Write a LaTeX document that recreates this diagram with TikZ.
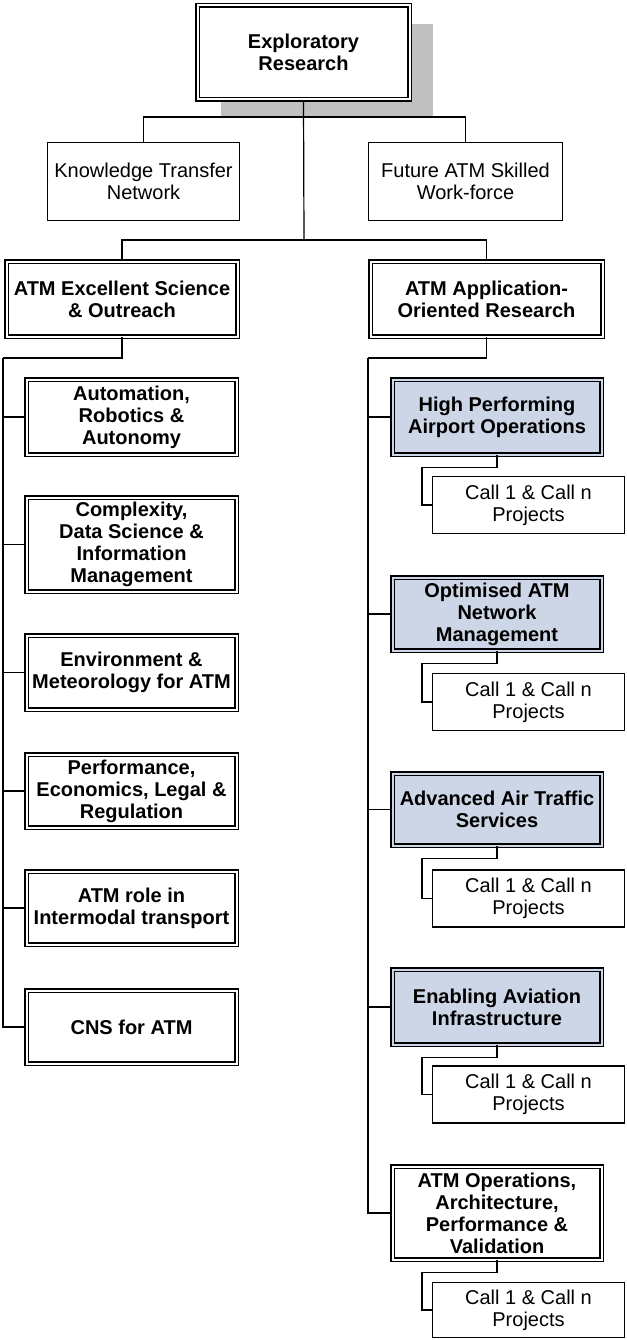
\documentclass[tikz,border=0pt]{standalone}
\usepackage{fontspec}
\setmainfont{Liberation Sans}
\usetikzlibrary{positioning, shadows}
\definecolor{areablue}{RGB}{204,214,230}
\definecolor{shadowgray}{RGB}{192,192,192}

\begin{document}
\begin{tikzpicture} [x=1pt, y=-1pt, line width=1.2pt,
  dbox/.style={rectangle, draw, fill=white, double=white, double distance=2pt, line width=1.3pt, inner sep=0pt, align=center, font=\fontsize{20}{22}\selectfont\bfseries},
  area/.style={dbox, fill=areablue, double=areablue},
  sbox/.style={rectangle, draw, fill=white, line width=1.2pt, inner sep=0pt, align=center, font=\fontsize{20}{22}\selectfont},
  call/.style={sbox, minimum width=192pt, minimum height=57pt}]
  \useasboundingbox (0,0) rectangle (626,1340);

  % top of the tree
  \draw (303.5,52.5) node[dbox, minimum width=212pt, minimum height=94pt, drop shadow={shadow xshift=23pt, shadow yshift=-19pt, fill=shadowgray, opacity=1}](expl) {Exploratory\\Research};
  \draw (143.5,181.5) node[sbox, minimum width=192pt, minimum height=78pt](ktn) {Knowledge Transfer\\Network};
  \draw (465.5,181.5) node[sbox, minimum width=194pt, minimum height=78pt](fut) {Future ATM Skilled\\Work-force};
  \draw (122,299)   node[dbox, minimum width=231pt, minimum height=75pt](aes) {ATM Excellent Science\\\& Outreach};
  \draw (486.5,299) node[dbox, minimum width=232pt, minimum height=75pt](aor) {ATM Application-\\Oriented Research};

  % excellent science column
  \draw (131.5,417)   node[dbox, minimum width=210pt, minimum height=75pt](aut)  {Automation,\\Robotics \&\\Autonomy};
  \draw (131.5,544.5) node[dbox, minimum width=210pt, minimum height=94pt](cpx)  {Complexity,\\Data Science \&\\Information\\Management};
  \draw (131.5,672.5) node[dbox, minimum width=210pt, minimum height=74pt](env)  {Environment \&\\Meteorology for ATM};
  \draw (131.5,791)   node[dbox, minimum width=210pt, minimum height=73pt](perf) {Performance,\\Economics, Legal \&\\Regulation};
  \draw (131.5,908)   node[dbox, minimum width=210pt, minimum height=73pt](role) {ATM role in\\Intermodal transport};
  \draw (131.5,1027)  node[dbox, minimum width=210pt, minimum height=73pt](cns)  {CNS for ATM};

  % application-oriented column
  \draw (497,417)    node[area, minimum width=209pt, minimum height=75pt](hpa)  {High Performing\\Airport Operations};
  \draw (497,614)    node[area, minimum width=209pt, minimum height=73pt](ona)  {Optimised ATM\\Network\\Management};
  \draw (497,809.5)  node[area, minimum width=209pt, minimum height=72pt](aats) {Advanced Air Traffic\\Services};
  \draw (497,1007)   node[area, minimum width=209pt, minimum height=75pt](eai)  {Enabling Aviation\\Infrastructure};
  \draw (497,1213)   node[dbox, minimum width=209pt, minimum height=93pt](aop)  {ATM Operations,\\Architecture,\\Performance \&\\Validation};

  \draw (528.5,505)    node[call](c1) {Call 1 \& Call n\\Projects};
  \draw (528.5,702)    node[call](c2) {Call 1 \& Call n\\Projects};
  \draw (528.5,898.5)  node[call](c3) {Call 1 \& Call n\\Projects};
  \draw (528.5,1094.5) node[call](c4) {Call 1 \& Call n\\Projects};
  \draw (528.5,1310)   node[call, minimum height=55pt](c5) {Call 1 \& Call n\\Projects};

  % connectors
  \coordinate (tj) at (304,117);
  \coordinate (mj) at (304,240);
  \coordinate (lsp) at (3,358);
  \coordinate (rsp) at (368,358);
  \draw (expl.south) -- (mj);
  \draw (ktn.north) |- (tj) -| (fut.north);
  \draw (aes.north) |- (mj) -| (aor.north);
  \draw (aes.south) |- (lsp);
  \draw (aor.south) |- (rsp);
  \foreach \n in {aut,cpx,env,perf,role,cns}
    \draw (lsp) |- (\n.west);
  \foreach \n in {hpa,ona,aats,eai,aop}
    \draw (rsp) |- (\n.west);
  \foreach \a/\c in {hpa/c1,ona/c2,aats/c3,eai/c4,aop/c5}
    \draw (\a.south) -- ++(0,12) -- ++(-75,0) |- (\c.west);
\end{tikzpicture}
\end{document}
